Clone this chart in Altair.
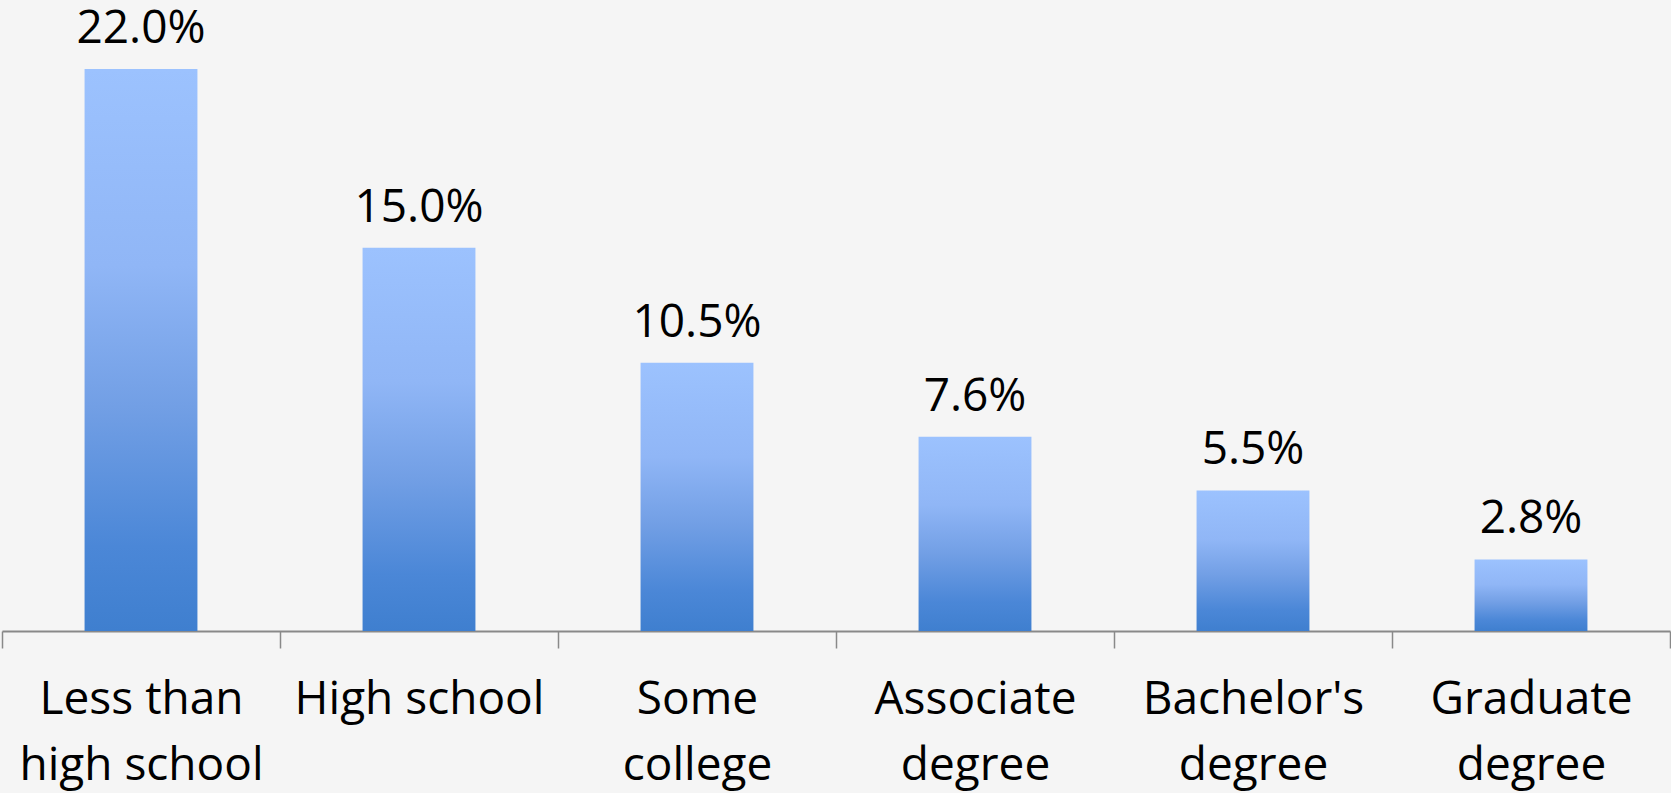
import altair as alt
import pandas as pd

categories = ["Less than|high school", "High school", "Some|college", "Associate|degree", "Bachelor's|degree", "Graduate|degree"]
values = [22.0, 15.0, 10.5, 7.6, 5.5, 2.8]
value_labels = ["22.0%", "15.0%", "10.5%", "7.6%", "5.5%", "2.8%"]

df = pd.DataFrame({"cat": categories, "value": values, "label": value_labels})

FONT = "Open Sans"

grad = alt.Gradient(
    gradient="linear",
    stops=[
        alt.GradientStop(color="#9cc2fe", offset=0),
        alt.GradientStop(color="#90b6f6", offset=0.35),
        alt.GradientStop(color="#729fe5", offset=0.6),
        alt.GradientStop(color="#4b87d7", offset=0.85),
        alt.GradientStop(color="#3f7fcf", offset=1),
    ],
    x1=0, x2=0, y1=0, y2=1,
)

x = alt.X(
    "cat:N",
    sort=categories,
    title=None,
    scale=alt.Scale(paddingInner=0, paddingOuter=0),
    axis=alt.Axis(
        labelExpr="split(datum.label, '|')",
        labelAngle=0,
        labelFont=FONT,
        labelFontSize=46,
        labelColor="#000000",
        labelLineHeight=66,
        labelPadding=29,
        labelBaseline="top",
        tickBand="extent",
        tickSize=17,
        tickColor="#898989",
        tickWidth=1.5,
        domainColor="#898989",
        domainWidth=2,
        grid=False,
        labelLimit=0,
    ),
)
y = alt.Y("value:Q", scale=alt.Scale(domain=[0, 24.7], nice=False, zero=True), axis=None)

bars = alt.Chart(df).mark_bar(color=grad, width=alt.RelativeBandSize(0.406)).encode(x=x, y=y)
text = alt.Chart(df).mark_text(
    font=FONT, fontSize=46, color="#000000", baseline="alphabetic", dy=-26
).encode(x=alt.X("cat:N", sort=categories), y="value:Q", text="label:N")

chart = (bars + text).properties(
    width=1668,
    height=631,
    background="#f5f5f5",
    padding={"left": 2, "top": 0, "right": 1, "bottom": 162},
    autosize=alt.AutoSizeParams(type="none"),
).configure_view(stroke=None)

chart.save("out.html", embed_options={"renderer": "svg", "actions": False})
